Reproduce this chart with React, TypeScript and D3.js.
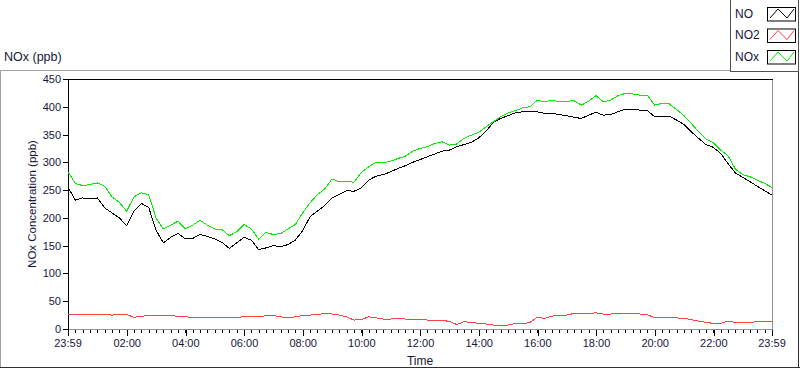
import React from 'react';
import * as d3 from 'd3';

// readings every 15 minutes, starting at 23:59 the day before
const noValues = [
  255, 232, 236, 234, 236, 218, 209, 200, 186, 212, 226, 219, 178, 155, 165, 172,
  162, 163, 170, 167, 162, 156, 145, 155, 165, 160, 143, 146, 150, 148, 152, 160,
  177, 202, 212, 222, 236, 242, 249, 248, 254, 268, 275, 278, 283, 289, 294, 300,
  305, 310, 315, 320, 322, 328, 332, 336, 344, 356, 372, 379, 384, 389, 391, 392,
  391, 388, 388, 386, 384, 381, 379, 385, 390, 385, 386, 391, 396, 396, 394, 393,
  382, 383, 383, 376, 368, 355, 343, 332, 327, 316, 298, 281, 273, 265, 257, 249,
  241
];
const no2Values = [
  27, 26, 26, 27, 26, 26, 25, 26, 26, 21, 23, 24, 24, 25, 24, 23,
  22, 21, 20, 20, 20, 20, 21, 21, 22, 23, 22, 24, 24, 22, 20, 22,
  24, 25, 26, 28, 27, 25, 22, 16, 17, 22, 20, 18, 18, 19, 18, 18,
  18, 16, 16, 15, 14, 8, 13, 12, 10, 9, 7, 6, 7, 10, 9, 12,
  21, 19, 23, 25, 25, 28, 27, 28, 29, 27, 27, 28, 28, 28, 27, 26,
  20, 21, 21, 20, 19, 17, 14, 12, 10, 10, 14, 12, 12, 12, 13, 13,
  14
];
const noxValues = [
  283, 262, 258, 260, 263, 257, 238, 228, 212, 238, 245, 242, 200, 180, 187, 194,
  180, 187, 196, 187, 180, 179, 168, 175, 188, 180, 162, 174, 170, 172, 180, 188,
  209, 227, 242, 252, 270, 265, 266, 264, 282, 292, 300, 299, 302, 307, 311, 320,
  325, 328, 334, 337, 331, 333, 343, 349, 354, 364, 373, 382, 389, 393, 398, 400,
  412, 409, 412, 409, 410, 411, 403, 410, 420, 409, 412, 420, 424, 423, 421, 421,
  403, 406, 405, 395, 384, 370, 355, 342, 335, 322, 312, 288, 278, 274, 268, 262,
  255
];
const timeLabels = ['23:59', '02:00', '04:00', '06:00', '08:00', '10:00', '12:00',
  '14:00', '16:00', '18:00', '20:00', '22:00', '23:59'];
const yTicks = [0, 50, 100, 150, 200, 250, 300, 350, 400, 450];
const seriesNames = ['NO', 'NO2', 'NOx'];
const seriesColors = ['#000000', '#ff4040', '#00ee00'];

const FONT = '"Liberation Sans", Arial, sans-serif';
const TEXT = '#16163a';

export default function App() {
  const W = 800, H = 369;
  const plot = { left: 68, top: 79, right: 772, bottom: 329 };

  const start = new Date(2020, 0, 0, 23, 59);
  const end = new Date(2020, 0, 1, 23, 59);
  const x = d3.scaleTime().domain([start, end]).range([plot.left, plot.right]);
  const y = d3.scaleLinear().domain([0, 450]).range([plot.bottom, plot.top]);

  const times = noValues.map((_, i) => d3.timeMinute.offset(start, i * 15));
  const allSeries = [noValues, no2Values, noxValues];

  const line = d3.line<number>()
    .x((_, i) => x(times[i]))
    .y(d => y(d));

  const tickDates = timeLabels.map((l, i) => {
    const [h, m] = l.split(':').map(Number);
    return new Date(2020, 0, i === 0 ? 0 : 1, h, m);
  });
  const minorTicks = d3.range(0, 1441, 15).map(m => d3.timeMinute.offset(start, m));

  const legendRows = [7, 28.5, 50];

  return (
    <svg width={W} height={H} style={{ position: 'absolute', left: 0, top: 0, background: '#fff' }}>
      <defs>
        <clipPath id="plotclip">
          <rect x={plot.left} y={plot.top} width={plot.right - plot.left} height={plot.bottom - plot.top} />
        </clipPath>
      </defs>

      {/* outer frame */}
      <line x1={0.5} y1={70.5} x2={730} y2={70.5} stroke="#a0a0a0" />
      <line x1={0.5} y1={70.5} x2={0.5} y2={368} stroke="#a0a0a0" />
      <line x1={0} y1={367.5} x2={800} y2={367.5} stroke="#303030" />
      <line x1={798.5} y1={72} x2={798.5} y2={368} stroke="#303030" />

      <text x={4} y={61} fontFamily={FONT} fontSize={12.5} fill={TEXT}>NOx (ppb)</text>

      {/* legend */}
      <rect x={730.5} y={-1} width={68} height={72.5} fill="#fff" stroke="#505050" />
      {seriesNames.map((name, i) => {
        const top = legendRows[i];
        return (
          <g key={name}>
            <text x={735} y={top + 10.5} fontFamily={FONT} fontSize={12} fill={TEXT}>{name}</text>
            <rect x={767.5} y={top + 0.5} width={28} height={13.5} fill="#fff" stroke="#000" />
            <polyline
              points={`770,${top + 11} 778,${top + 2} 787,${top + 11} 794,${top + 2}`}
              fill="none" stroke={seriesColors[i]} strokeWidth={1} />
          </g>
        );
      })}

      {/* plot frame */}
      <rect x={plot.left} y={plot.top} width={plot.right - plot.left} height={plot.bottom - plot.top} fill="#fff" />
      <line x1={plot.right + 0.5} y1={plot.top} x2={plot.right + 0.5} y2={plot.bottom + 1} stroke="#909090" />
      <line x1={plot.left} y1={plot.bottom + 0.5} x2={plot.right + 1} y2={plot.bottom + 0.5} stroke="#909090" />
      <line x1={plot.left} y1={plot.top + 0.5} x2={plot.right + 1} y2={plot.top + 0.5} stroke="#000" />
      <line x1={plot.left + 0.5} y1={plot.top} x2={plot.left + 0.5} y2={plot.bottom + 1} stroke="#000" />

      {/* y axis */}
      {yTicks.map(t => (
        <g key={t}>
          <line x1={plot.left - 5} x2={plot.left} y1={Math.round(y(t)) + 0.5} y2={Math.round(y(t)) + 0.5} stroke="#000" />
          <text x={plot.left - 7} y={y(t) + 4} textAnchor="end" fontFamily={FONT} fontSize={11} fill={TEXT}>{t}</text>
        </g>
      ))}
      <text transform={`translate(36,${(plot.top + plot.bottom) / 2}) rotate(-90)`} textAnchor="middle"
        fontFamily={FONT} fontSize={11.5} fill={TEXT}>NOx Concentration (ppb)</text>

      {/* x axis */}
      {minorTicks.map((d, i) => (
        <line key={i} x1={Math.round(x(d)) + 0.5} x2={Math.round(x(d)) + 0.5} y1={plot.bottom + 1} y2={plot.bottom + 4} stroke="#000" />
      ))}
      {tickDates.map((d, i) => (
        <g key={i}>
          <line x1={Math.round(x(d)) + 0.5} x2={Math.round(x(d)) + 0.5} y1={plot.bottom + 1} y2={plot.bottom + 7} stroke="#000" />
          <text x={x(d)} y={plot.bottom + 18} textAnchor="middle" fontFamily={FONT} fontSize={11} fill={TEXT}>{timeLabels[i]}</text>
        </g>
      ))}
      <text x={(plot.left + plot.right) / 2} y={365} textAnchor="middle" fontFamily={FONT} fontSize={12} fill={TEXT}>Time</text>

      {/* series */}
      <g clipPath="url(#plotclip)">
        {allSeries.map((vals, i) => (
          <path key={seriesNames[i]} d={line(vals) || ''} fill="none" stroke={seriesColors[i]}
            strokeWidth={1} shapeRendering="crispEdges" />
        ))}
      </g>
    </svg>
  );
}
